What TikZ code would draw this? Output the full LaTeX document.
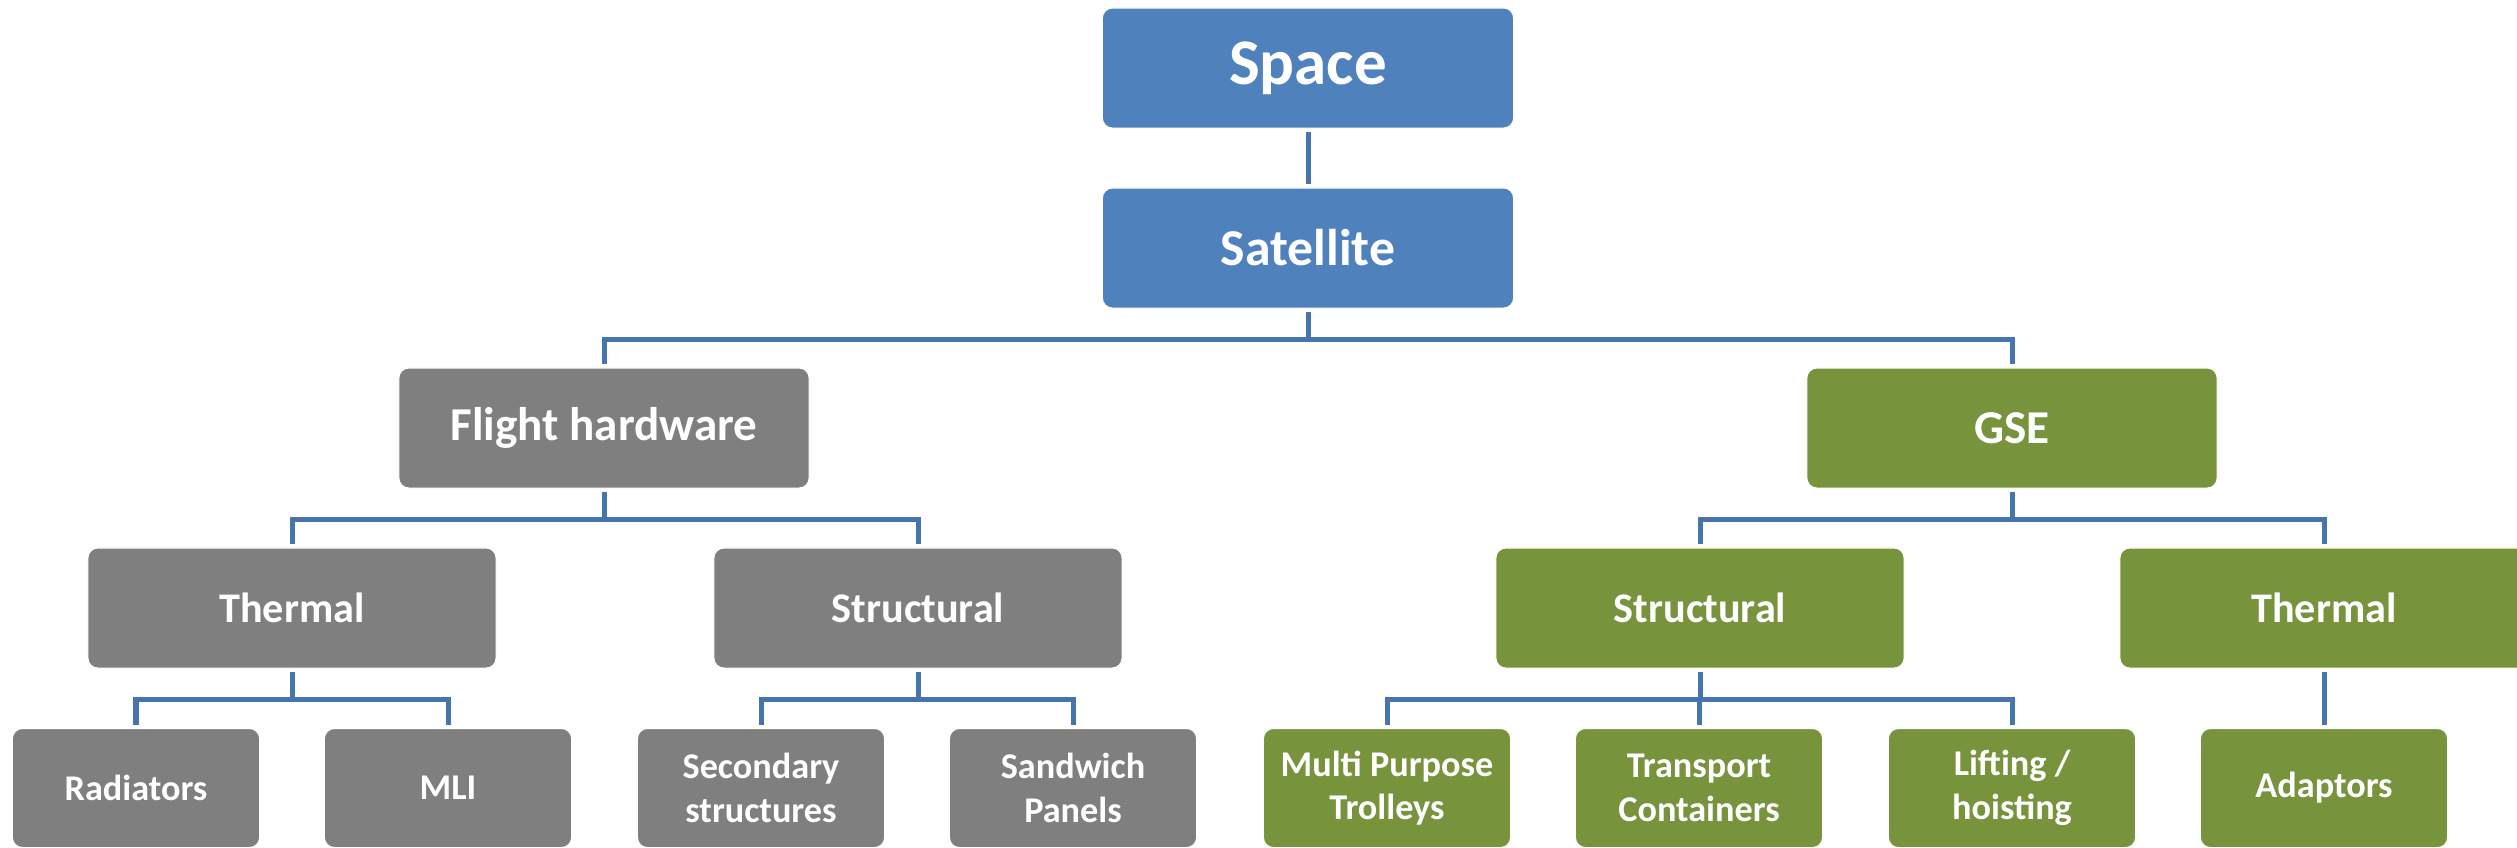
\documentclass[tikz,border=0pt]{standalone}
\usepackage{fontspec}
\setmainfont{Carlito}
\definecolor{boxblue}{RGB}{79,129,189}
\definecolor{boxgray}{RGB}{127,127,127}
\definecolor{boxgreen}{RGB}{119,147,60}
\definecolor{linkblue}{RGB}{70,116,172}

\begin{document}
\begin{tikzpicture}[x=0.01cm,y=-0.01cm,
	every node/.style={text=white,align=center,draw=white,line width=0.3pt,rounded corners=0.1cm,inner sep=0pt},
	topbox/.style={fill=boxblue,minimum width=4.11cm,minimum height=1.2cm},
	branchbox/.style={minimum width=4.1cm,minimum height=1.2cm,font=\bfseries\fontsize{13.4}{16}\selectfont},
	subbox/.style={minimum width=4.08cm,minimum height=1.2cm,font=\bfseries\fontsize{12}{14}\selectfont},
	leafbox/.style={minimum width=2.47cm,minimum height=1.19cm,font=\bfseries\fontsize{10.3}{12.4}\selectfont},
	link/.style={draw=linkblue,line width=0.05cm,shorten <=0.03cm,shorten >=0.03cm}]
	\useasboundingbox (0,0) rectangle (2517,847);

%	\coordinate (    ) at (x px, y px);
	\coordinate (pspace) at (1308, 68);
	\coordinate (psat)   at (1308,248);
	\coordinate (pfh)    at ( 604,428);
	\coordinate (pgse)   at (2012,428);
	\coordinate (pfth)   at ( 292,608);
	\coordinate (pfst)   at ( 918,608);
	\coordinate (pgst)   at (1700,608);
	\coordinate (pgth)   at (2324,608);
	\coordinate (prad)   at ( 136,788);
	\coordinate (pmli)   at ( 448,788);
	\coordinate (psec)   at ( 761,788);
	\coordinate (psand)  at (1073,788);
	\coordinate (pmpt)   at (1387,788);
	\coordinate (ptc)    at (1699,788);
	\coordinate (plift)  at (2012,788);
	\coordinate (padap)  at (2324,788);

	\node[topbox,font=\bfseries\fontsize{18.5}{22}\selectfont] (space) at (pspace) {Space};
	\node[topbox,font=\bfseries\fontsize{14.7}{18}\selectfont] (sat) at (psat) {Satellite};
	\node[branchbox,fill=boxgray]  (fh)  at (pfh)  {Flight hardware};
	\node[branchbox,fill=boxgreen] (gse) at (pgse) {GSE};
	\node[subbox,fill=boxgray]  (fth) at (pfth) {Thermal};
	\node[subbox,fill=boxgray]  (fst) at (pfst) {Structural};
	\node[subbox,fill=boxgreen] (gst) at (pgst) {Structural};
	\node[subbox,fill=boxgreen] (gth) at (pgth) {Thermal};
	\node[leafbox,fill=boxgray]  (rad)  at (prad)  {Radiators};
	\node[leafbox,fill=boxgray]  (mli)  at (pmli)  {MLI};
	\node[leafbox,fill=boxgray]  (sec)  at (psec)  {Secondary\\structures};
	\node[leafbox,fill=boxgray]  (sand) at (psand) {Sandwich\\Panels};
	\node[leafbox,fill=boxgreen] (mpt)  at (pmpt)  {Multi Purpose\\Trolleys};
	\node[leafbox,fill=boxgreen] (tc)   at (ptc)   {Transport\\Containers};
	\node[leafbox,fill=boxgreen] (lift) at (plift) {Lifting /\\hoisting};
	\node[leafbox,fill=boxgreen] (adap) at (padap) {Adaptors};

	% connectors
	\draw[link] (space) -- (sat);
	\draw[link] (gth) -- (adap);
	\foreach \p/\c in {sat/fh,sat/gse,fh/fth,fh/fst,gse/gst,gse/gth,fth/rad,fth/mli,fst/sec,fst/sand,gst/mpt,gst/tc,gst/lift}
		\draw[link] (\p.south) -- ++(0,30.5) -| (\c.north);
\end{tikzpicture}
\end{document}
